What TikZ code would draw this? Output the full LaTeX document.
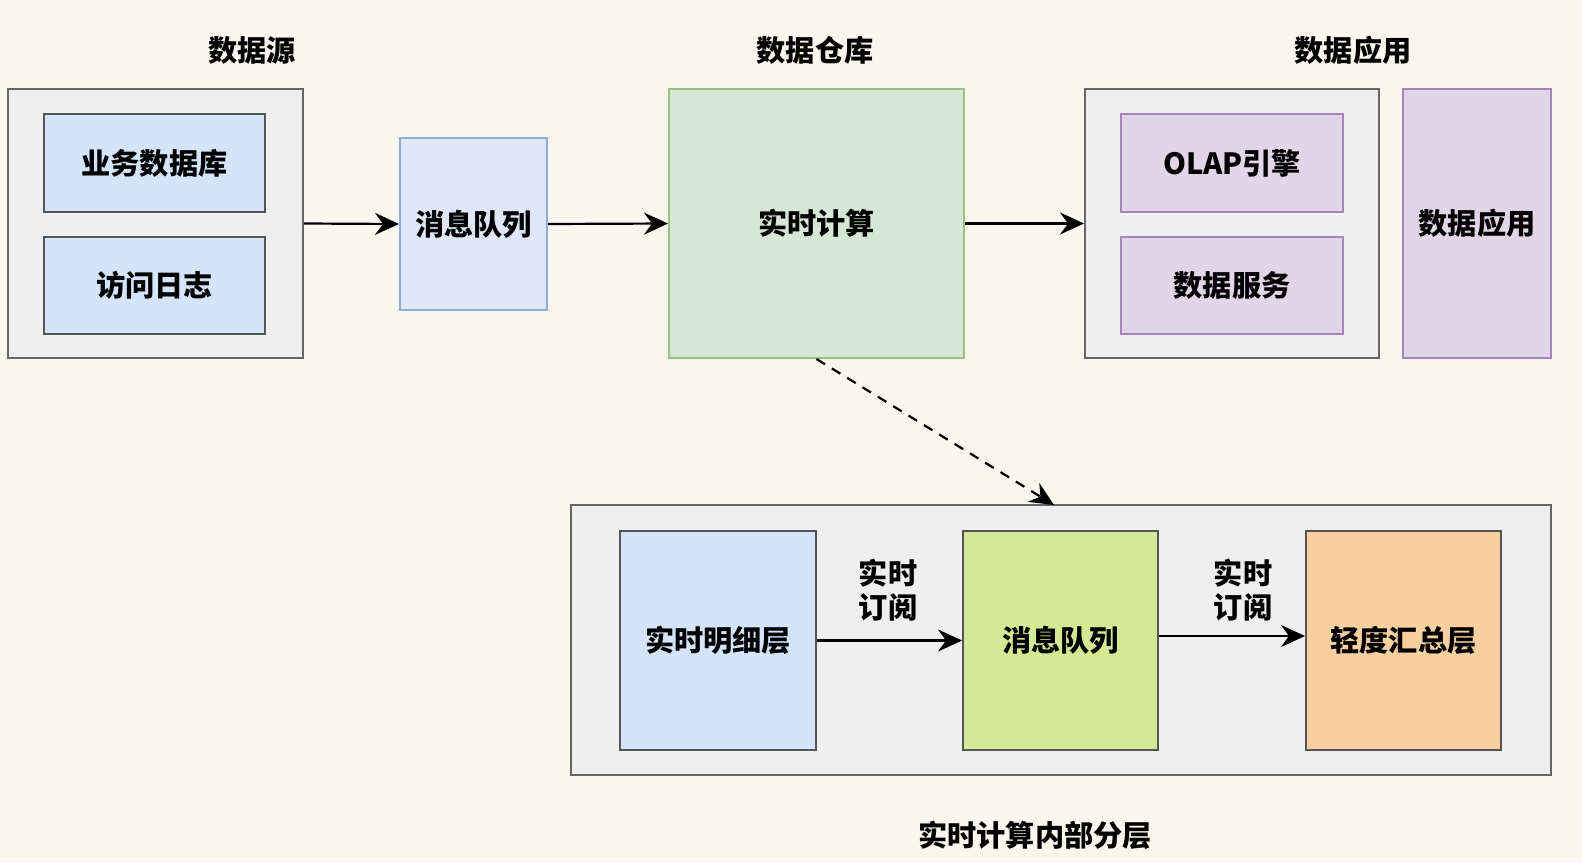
\documentclass[tikz,border=0pt]{standalone}
\usepackage{fontspec}
\setmainfont{Noto Sans CJK SC}
\usetikzlibrary{arrows.meta,fit}
\definecolor{bgc}{HTML}{FAF7EF}
\definecolor{grayfill}{HTML}{EFEFEF}
\definecolor{grayline}{HTML}{666666}
\definecolor{darkline}{HTML}{555555}
\definecolor{bluefill}{HTML}{D4E5FB}
\definecolor{mqfill}{HTML}{DEE6F8}
\definecolor{mqline}{HTML}{8EACDB}
\definecolor{greenfill}{HTML}{D7E7D5}
\definecolor{greenline}{HTML}{97C27F}
\definecolor{purplefill}{HTML}{E1D6E7}
\definecolor{purpleline}{HTML}{A585BB}
\definecolor{limefill}{HTML}{D5E994}
\definecolor{orangefill}{HTML}{F8CF9F}
\tikzset{
  txt/.style={font=\fontsize{14.6pt}{17pt}\selectfont\bfseries, align=center, inner sep=0pt},
  base/.style={inner sep=0pt, line width=1pt},
  outerbox/.style={base, fill=grayfill, draw=grayline},
  bluebox/.style={base, fill=bluefill, draw=darkline},
  mqbox/.style={base, fill=mqfill, draw=mqline},
  greenbox/.style={base, fill=greenfill, draw=greenline},
  purplebox/.style={base, fill=purplefill, draw=purpleline},
  limebox/.style={base, fill=limefill, draw=darkline},
  orangebox/.style={base, fill=orangefill, draw=darkline},
  title/.style={txt},
  conn/.style={line width=1.1pt, -{Stealth[length=12pt,width=11pt,inset=4pt]}},
}
\begin{document}
\begin{tikzpicture}[x=0.5pt,y=-0.5pt]
\fill[bgc] (0,0) rectangle (1582,862);
\useasboundingbox (0,0) rectangle (1582,862);
% titles
\node[title] (t1) at (252,50) {数据源};
\node[title] (t2) at (815,50) {数据仓库};
\node[title] (t3) at (1353,50) {数据应用};
\node[title] (t4) at (1035,835) {实时计算内部分层};
% top row
\node[outerbox, fit={(8,89) (303,358)}] (src) {};
\node[bluebox, fit={(44,114) (265,212)}, label={[txt]center:业务数据库}] (db) {};
\node[bluebox, fit={(44,237) (265,334)}, label={[txt]center:访问日志}] (log) {};
\node[mqbox, fit={(400,138) (547,310)}, label={[txt]center:消息队列}] (mq1) {};
\node[greenbox, fit={(669,89) (964,358)}, label={[txt]center:实时计算}] (rt) {};
\node[outerbox, fit={(1085,89) (1379,358)}] (app) {};
\node[purplebox, fit={(1121,114) (1343,212)}, label={[txt]center:OLAP引擎}] (olap) {};
\node[purplebox, fit={(1121,237) (1343,334)}, label={[txt]center:数据服务}] (svc) {};
\node[purplebox, fit={(1403,89) (1551,358)}, label={[txt]center:数据应用}] (appbox) {};
% bottom
\node[outerbox, fit={(571,505) (1551,775)}] (inner) {};
\node[bluebox, fit={(620,531) (816,750)}, label={[txt]center:实时明细层}] (detail) {};
\node[limebox, fit={(963,531) (1158,750)}, label={[txt]center:消息队列}] (mq2) {};
\node[orangebox, fit={(1306,531) (1501,750)}, label={[txt]center:轻度汇总层}] (agg) {};
\node[title] (l1) at (888,590) {实时\\订阅};
\node[title] (l2) at (1243,590) {实时\\订阅};
\coordinate (dend) at (1054,505);
% connectors
\draw[conn] (src.east) -- (mq1.west);
\draw[conn] (mq1.east) -- (rt.west);
\draw[conn] (rt.east) -- (app.west);
\draw[conn, dashed, dash pattern=on 5pt off 4pt] (rt.south) -- (dend);
\draw[conn] (detail.east) -- (mq2.west);
\draw[conn] ([yshift=2.25pt]mq2.east) -- ([yshift=2.25pt]agg.west);
\end{tikzpicture}
\end{document}
